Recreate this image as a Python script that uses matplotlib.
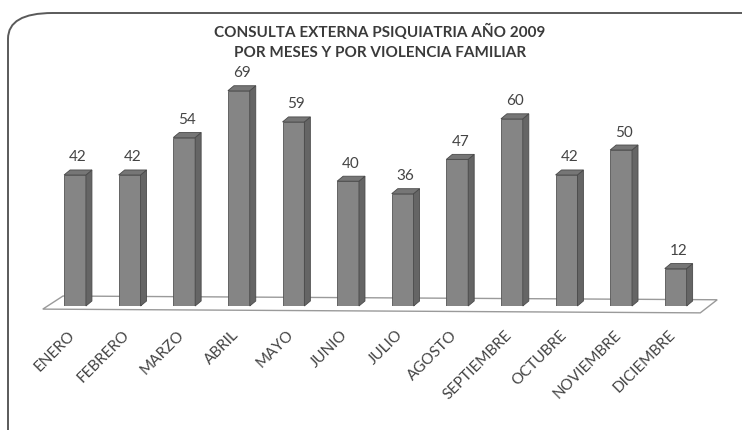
import matplotlib.pyplot as plt
from matplotlib.patches import Polygon, FancyBboxPatch

meses = ["ENERO", "FEBRERO", "MARZO", "ABRIL", "MAYO", "JUNIO", "JULIO",
         "AGOSTO", "SEPTIEMBRE", "OCTUBRE", "NOVIEMBRE", "DICIEMBRE"]
consultas = [42, 42, 54, 69, 59, 40, 36, 47, 60, 42, 50, 12]

titulo = "CONSULTA EXTERNA PSIQUIATRIA AÑO 2009\nPOR MESES Y POR VIOLENCIA FAMILIAR"

plt.rcParams['font.family'] = ['Lato', 'DejaVu Sans']

fig = plt.figure(figsize=(7.42, 4.30), dpi=100)
fig.patch.set_facecolor('white')

# rounded frame, right and bottom edges run off the page
marco = FancyBboxPatch((8 / 742, -0.2), 1.2, 1.2 - 13 / 430,
                       boxstyle="round,pad=0,rounding_size=0.06",
                       transform=fig.transFigure, facecolor='none',
                       edgecolor='#5a5a5a', linewidth=1.4, zorder=0)
fig.patches.append(marco)

fig.text(0.512, 0.903, titulo, ha='center', va='center', fontsize=11,
         fontweight='bold', color='#3a3a3a', linespacing=1.55)

ax = fig.add_axes([47.7 / 742, 124 / 430, 655.3 / 742, 228.7 / 430])
ax.set_xlim(-0.5, 11.5)
ax.set_ylim(0, 73.3)
ax.axis('off')

ancho = 0.40
dx, dy = 0.11, 1.6

# floor
piso = Polygon([(-0.59, -1.0), (11.45, -2.2), (11.76, 2.0), (-0.22, 3.2)],
               closed=True, facecolor='white', edgecolor='#9a9a9a',
               linewidth=1.0, clip_on=False, zorder=1)
ax.add_patch(piso)

x = list(range(len(meses)))
ax.bar(x, consultas, width=ancho, color='#858585', edgecolor='#555555',
       linewidth=0.6, zorder=3)

for i, v in zip(x, consultas):
    x0, x1 = i - ancho / 2, i + ancho / 2
    lado = Polygon([(x1, 0), (x1 + dx, dy), (x1 + dx, v + dy), (x1, v)],
                   closed=True, facecolor='#656565', edgecolor='#4a4a4a',
                   linewidth=0.6, clip_on=False, zorder=3)
    tapa = Polygon([(x0, v), (x0 + dx, v + dy), (x1 + dx, v + dy), (x1, v)],
                   closed=True, facecolor='#767676', edgecolor='#4a4a4a',
                   linewidth=0.6, clip_on=False, zorder=3)
    ax.add_patch(lado)
    ax.add_patch(tapa)
    ax.text(i + dx / 2, v + dy + 4.0, str(v), ha='center', va='center',
            fontsize=11, color='#444444', clip_on=False)
    ax.text(i - 0.04, -8.6, meses[i], rotation=45, rotation_mode='anchor',
            ha='right', va='center', fontsize=11, color='#444444',
            clip_on=False)

fig.savefig('out.png', dpi=100)
